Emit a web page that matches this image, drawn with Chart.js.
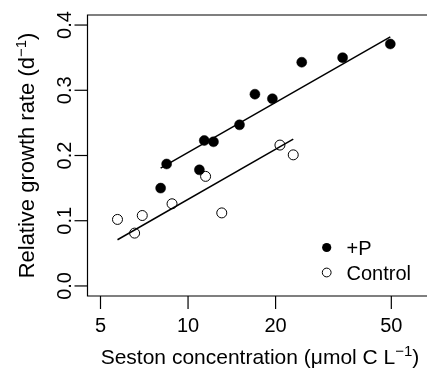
<!DOCTYPE html>
<html>
<head>
<meta charset="utf-8">
<script src="https://cdn.jsdelivr.net/npm/chart.js@4"></script>
<style>
  html, body { margin: 0; padding: 0; background: #fff; }
  canvas { display: block; }
</style>
</head>
<body>
<canvas id="chart" width="431" height="368"></canvas>
<script>
// +P treatment (filled)
const plusX = [8.05, 8.44, 10.94, 11.37, 12.23, 15.03, 16.98, 19.5, 24.6, 34.0, 49.6];
const plusY = [0.150, 0.187, 0.178, 0.223, 0.221, 0.247, 0.294, 0.287, 0.343, 0.350, 0.371];
// Control (open)
const ctrlX = [5.72, 6.55, 6.96, 8.81, 11.49, 13.06, 20.7, 23.0];
const ctrlY = [0.102, 0.081, 0.108, 0.126, 0.168, 0.112, 0.216, 0.201];
// fitted lines, end points
const plusFitX = [8.05, 49.6];
const plusFitY = [0.1805, 0.382];
const ctrlFitX = [5.72, 23.0];
const ctrlFitY = [0.0708, 0.2251];

const xTicks = [5, 10, 20, 50];
const yTicks = [0, 0.1, 0.2, 0.3, 0.4];
const yTickLabels = ['0.0', '0.1', '0.2', '0.3', '0.4'];
const seriesNames = ['+P', 'Control'];

const FONT = '"Liberation Sans", Arial, Helvetica, sans-serif';

function pts(xs, ys) {
    return xs.map((x, i) => ({ x: x, y: ys[i] }));
}

// draw text pieces [text, size, rise] centred on cx
function drawParts(ctx, parts, cx, cy) {
    let w = 0;
    parts.forEach(p => {
        ctx.font = p[1] + 'px ' + FONT;
        w += ctx.measureText(p[0]).width;
    });
    let x = cx - w / 2;
    ctx.textAlign = 'left';
    ctx.textBaseline = 'alphabetic';
    parts.forEach(p => {
        ctx.font = p[1] + 'px ' + FONT;
        ctx.fillText(p[0], x, cy - p[2]);
        x += ctx.measureText(p[0]).width;
    });
}

const framePlugin = {
    id: 'frame',
    afterDraw(chart) {
        const ctx = chart.ctx;
        const a = chart.chartArea;
        const xs = chart.scales.x;
        const ys = chart.scales.y;
        ctx.save();
        ctx.strokeStyle = '#000';
        ctx.fillStyle = '#000';
        ctx.lineWidth = 1.2;

        // box
        ctx.beginPath();
        ctx.moveTo(a.right + 2, a.top);
        ctx.lineTo(a.left, a.top);
        ctx.lineTo(a.left, a.bottom);
        ctx.lineTo(a.right + 2, a.bottom);
        ctx.stroke();

        // x axis
        ctx.font = '20px ' + FONT;
        ctx.textAlign = 'center';
        ctx.textBaseline = 'alphabetic';
        xTicks.forEach(v => {
            const px = xs.getPixelForValue(v);
            ctx.beginPath();
            ctx.moveTo(px, a.bottom);
            ctx.lineTo(px, a.bottom + 13);
            ctx.stroke();
            ctx.fillText(String(v), px, 332);
        });

        // y axis
        yTicks.forEach((v, i) => {
            const py = ys.getPixelForValue(v);
            ctx.beginPath();
            ctx.moveTo(a.left - 13, py);
            ctx.lineTo(a.left, py);
            ctx.stroke();
            ctx.save();
            ctx.translate(71, py);
            ctx.rotate(-Math.PI / 2);
            ctx.font = '20px ' + FONT;
            ctx.textAlign = 'center';
            ctx.fillText(yTickLabels[i], 0, 0);
            ctx.restore();
        });

        // axis titles
        drawParts(ctx, [['Seston concentration (\u03bcmol C L', 21, 0], ['\u22121', 15, 8], [')', 21, 0]], 260, 363.5);
        ctx.save();
        ctx.translate(34, ys.getPixelForValue(0.2));
        ctx.rotate(-Math.PI / 2);
        drawParts(ctx, [['Relative growth rate (d', 22, 0], ['\u22121', 15, 8], [')', 22, 0]], 0, 0);
        ctx.restore();

        // legend
        const lx = 326.7;
        const ly = [247.5, 272.5];
        ctx.beginPath();
        ctx.arc(lx, ly[0], 4.6, 0, Math.PI * 2);
        ctx.fill();
        ctx.beginPath();
        ctx.arc(lx, ly[1], 4.4, 0, Math.PI * 2);
        ctx.fillStyle = '#fff';
        ctx.fill();
        ctx.lineWidth = 1;
        ctx.stroke();
        ctx.fillStyle = '#000';
        ctx.font = '20px ' + FONT;
        ctx.textAlign = 'left';
        ctx.fillText(seriesNames[0], 346.5, ly[0] + 7);
        ctx.fillText(seriesNames[1], 346.5, ly[1] + 7);
        ctx.restore();
    }
};

new Chart(document.getElementById('chart').getContext('2d'), {
    type: 'scatter',
    data: {
        datasets: [
            {
                type: 'line',
                data: pts(plusFitX, plusFitY),
                borderColor: '#000',
                borderWidth: 1.5,
                pointRadius: 0,
                fill: false
            },
            {
                type: 'line',
                data: pts(ctrlFitX, ctrlFitY),
                borderColor: '#000',
                borderWidth: 1.5,
                pointRadius: 0,
                fill: false
            },
            {
                label: seriesNames[0],
                data: pts(plusX, plusY),
                pointRadius: 5,
                pointBackgroundColor: '#000',
                pointBorderColor: '#000',
                pointBorderWidth: 0.5
            },
            {
                label: seriesNames[1],
                data: pts(ctrlX, ctrlY),
                pointRadius: 5,
                pointBackgroundColor: '#fff',
                pointBorderColor: '#000',
                pointBorderWidth: 1
            }
        ]
    },
    options: {
        responsive: false,
        animation: false,
        layout: {
            padding: { left: 87.5, top: 15, right: 0, bottom: 72 }
        },
        scales: {
            x: { type: 'logarithmic', min: 4.511, max: 65.28, display: false },
            y: { type: 'linear', min: -0.0154, max: 0.4154, display: false }
        },
        plugins: {
            legend: { display: false },
            tooltip: { enabled: false }
        }
    },
    plugins: [framePlugin]
});
</script>
</body>
</html>
